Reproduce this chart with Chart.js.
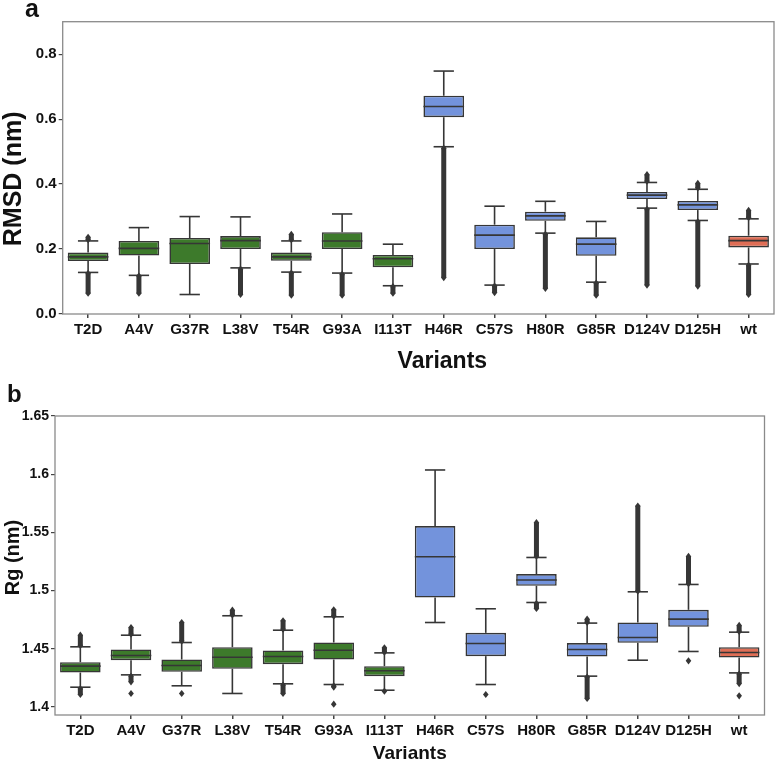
<!DOCTYPE html>
<html lang="en">

<head>
    <meta charset="UTF-8">
    <title>RMSD and Rg of SOD1 variants</title>
    <script src="https://cdn.jsdelivr.net/npm/chart.js"></script>
    <style>
        body,
        html {
            margin: 0;
            background: #fff;
        }

        .panel {
            position: absolute;
            left: 0;
            width: 776px;
        }
    </style>
</head>

<body>
    <div class="panel" style="top:0;height:376px"><canvas id="rmsdChart"></canvas></div>
    <div class="panel" style="top:376px;height:385px"><canvas id="rgChart"></canvas></div>
    <script>
        const variants = ['T2D', 'A4V', 'G37R', 'L38V', 'T54R', 'G93A', 'I113T', 'H46R', 'C57S', 'H80R', 'G85R', 'D124V', 'D125H', 'wt'];
        const groups = ['g', 'g', 'g', 'g', 'g', 'g', 'g', 'b', 'b', 'b', 'b', 'b', 'b', 'w'];

        // panel a: RMSD (nm)
        const rmsdWhiskLo = [0.128, 0.119, 0.060, 0.142, 0.129, 0.126, 0.087, 0.515, 0.089, 0.249, 0.098, 0.326, 0.288, 0.154];
        const rmsdQ1 = [0.163, 0.180, 0.154, 0.200, 0.164, 0.200, 0.144, 0.606, 0.200, 0.287, 0.179, 0.354, 0.320, 0.205];
        const rmsdMed = [0.176, 0.202, 0.217, 0.226, 0.176, 0.225, 0.170, 0.639, 0.243, 0.302, 0.215, 0.366, 0.336, 0.226];
        const rmsdQ3 = [0.189, 0.225, 0.234, 0.240, 0.189, 0.252, 0.182, 0.672, 0.275, 0.315, 0.236, 0.376, 0.348, 0.241];
        const rmsdWhiskHi = [0.225, 0.266, 0.300, 0.299, 0.225, 0.308, 0.215, 0.748, 0.332, 0.347, 0.285, 0.405, 0.384, 0.293];
        const rmsdOutLo = [[0.064, 0.125], [0.064, 0.117], null, [0.060, 0.138], [0.058, 0.126], [0.058, 0.122], [0.064, 0.084],
            [0.112, 0.510], [0.066, 0.086], [0.079, 0.245], [0.058, 0.095], [0.089, 0.322], [0.086, 0.284], [0.060, 0.150]];
        const rmsdOutHi = [[0.229, 0.236], null, null, null, [0.229, 0.245], null, null,
            null, null, null, null, [0.409, 0.429], [0.388, 0.402], [0.297, 0.319]];
        const rmsdOutSingle = [[], [], [], [], [], [], [], [], [], [], [], [], [], []];
        const rmsdTicks = [0.0, 0.2, 0.4, 0.6, 0.8];

        // panel b: Rg (nm)
        const rgWhiskLo = [1.4169, 1.4275, 1.4181, 1.4115, 1.4198, 1.4192, 1.4143, 1.4725, 1.4192, 1.4897, 1.4264, 1.4401, 1.4476, 1.4292];
        const rgQ1 = [1.4295, 1.4401, 1.4301, 1.4327, 1.4367, 1.4407, 1.4264, 1.4940, 1.4436, 1.5041, 1.4433, 1.4550, 1.4688, 1.4424];
        const rgMed = [1.4350, 1.4442, 1.4356, 1.4427, 1.4433, 1.4487, 1.4310, 1.5290, 1.4545, 1.5090, 1.4493, 1.4596, 1.4754, 1.4467];
        const rgQ3 = [1.4384, 1.4493, 1.4407, 1.4513, 1.4485, 1.4553, 1.4350, 1.5554, 1.4636, 1.5141, 1.4548, 1.4725, 1.4834, 1.4513];
        const rgWhiskHi = [1.4516, 1.4616, 1.4553, 1.4783, 1.4659, 1.4774, 1.4464, 1.6036, 1.4843, 1.5284, 1.4720, 1.4989, 1.5052, 1.4642];
        const rgOutLo = [[1.4106, 1.4155], [1.4215, 1.4262], null, null, [1.4115, 1.4188], [1.4170, 1.4180], null,
            null, null, [1.4846, 1.4888], [1.4072, 1.4255], null, null, [1.4200, 1.4282]];
        const rgOutHi = [[1.4528, 1.4616], [1.4625, 1.4682], [1.4565, 1.4725], [1.4790, 1.4831], [1.4668, 1.4740], [1.4780, 1.4834], [1.4470, 1.4507],
            null, null, [1.5295, 1.5583], [1.4725, 1.4754], [1.4995, 1.5726], [1.5060, 1.5293], [1.4648, 1.4700]];
        const rgOutSingle = [[], [1.4115], [1.4115], [], [], [1.4023], [1.4135], [], [1.4106], [], [], [], [1.4396], [1.4095]];
        const rgTicks = [1.4, 1.45, 1.5, 1.55, 1.6, 1.65];

        const palette = { g: '#3d7a2b', b: '#7393dc', w: '#df6e56' };
        const lineColor = '#363636';
        const fontFamily = '"Liberation Sans", Arial, sans-serif';

        function diamond(ctx, x, y) {
            ctx.beginPath();
            ctx.moveTo(x, y - 3.6);
            ctx.lineTo(x + 2.8, y);
            ctx.lineTo(x, y + 3.6);
            ctx.lineTo(x - 2.8, y);
            ctx.closePath();
            ctx.fill();
        }

        const boxExtras = {
            id: 'boxExtras',
            beforeDatasetsDraw(chart, args, opts) {
                const ctx = chart.ctx;
                const xs = chart.scales.x, ys = chart.scales.y;
                const bars = chart.getDatasetMeta(0).data;
                const s = opts.stats;
                ctx.save();
                ctx.strokeStyle = lineColor;
                ctx.fillStyle = lineColor;
                ctx.lineWidth = 1.6;
                variants.forEach((v, i) => {
                    const x = xs.getPixelForValue(i);
                    const cap = bars[i].width / 4;
                    const seg = (a, b) => {
                        ctx.beginPath();
                        ctx.moveTo(x, ys.getPixelForValue(a));
                        ctx.lineTo(x, ys.getPixelForValue(b));
                        ctx.stroke();
                    };
                    seg(s.q3[i], s.hi[i]);
                    seg(s.q1[i], s.lo[i]);
                    [s.hi[i], s.lo[i]].forEach(w => {
                        const y = ys.getPixelForValue(w);
                        ctx.beginPath();
                        ctx.moveTo(x - cap, y);
                        ctx.lineTo(x + cap, y);
                        ctx.stroke();
                    });
                    // outlier runs: dense markers shown as a thick band
                    [s.outLo[i], s.outHi[i]].forEach(r => {
                        if (!r) return;
                        const y1 = ys.getPixelForValue(r[0]), y2 = ys.getPixelForValue(r[1]);
                        ctx.save();
                        ctx.lineWidth = 5;
                        ctx.beginPath();
                        ctx.moveTo(x, y1);
                        ctx.lineTo(x, y2);
                        ctx.stroke();
                        ctx.restore();
                        diamond(ctx, x, y1);
                        diamond(ctx, x, y2);
                    });
                    s.single[i].forEach(p => diamond(ctx, x, ys.getPixelForValue(p)));
                });
                ctx.restore();
            },
            afterDatasetsDraw(chart, args, opts) {
                const ctx = chart.ctx;
                const ys = chart.scales.y;
                const bars = chart.getDatasetMeta(0).data;
                ctx.save();
                ctx.strokeStyle = lineColor;
                ctx.lineWidth = 1.6;
                bars.forEach((bar, i) => {
                    const y = ys.getPixelForValue(opts.stats.med[i]);
                    ctx.beginPath();
                    ctx.moveTo(bar.x - bar.width / 2, y);
                    ctx.lineTo(bar.x + bar.width / 2, y);
                    ctx.stroke();
                });
                ctx.restore();
            },
            afterDraw(chart, args, opts) {
                const ctx = chart.ctx;
                const a = chart.chartArea;
                ctx.save();
                ctx.strokeStyle = '#8a8a8a';
                ctx.lineWidth = 1.3;
                ctx.strokeRect(a.left, a.top, a.right - a.left, a.bottom - a.top);
                ctx.fillStyle = '#111';
                ctx.textAlign = 'left';
                ctx.textBaseline = 'alphabetic';
                ctx.font = 'bold ' + opts.panel.size + 'px ' + fontFamily;
                ctx.fillText(opts.panel.text, opts.panel.x, opts.panel.y);
                ctx.textAlign = 'center';
                ctx.font = 'bold ' + opts.xTitle.size + 'px ' + fontFamily;
                ctx.fillText('Variants', (a.left + a.right) / 2 + opts.xTitle.dx, opts.xTitle.y);
                ctx.translate(opts.yTitle.x, (a.top + a.bottom) / 2 + opts.yTitle.dy);
                ctx.rotate(-Math.PI / 2);
                ctx.textBaseline = 'middle';
                ctx.font = 'bold ' + opts.yTitle.size + 'px ' + fontFamily;
                ctx.fillText(opts.yTitle.text, 0, 0);
                ctx.restore();
            }
        };

        function makeChart(id, d) {
            const ctx = document.getElementById(id).getContext('2d');
            return new Chart(ctx, {
                type: 'bar',
                data: {
                    labels: variants,
                    datasets: [{
                        data: d.q1.map((q, i) => [q, d.q3[i]]),
                        backgroundColor: groups.map(g => palette[g]),
                        borderColor: lineColor,
                        borderWidth: 1.6,
                        borderSkipped: false,
                        categoryPercentage: 0.8,
                        barPercentage: 1.0
                    }]
                },
                options: {
                    responsive: true,
                    maintainAspectRatio: false,
                    animation: false,
                    layout: { padding: d.padding },
                    plugins: {
                        legend: { display: false },
                        tooltip: { enabled: false },
                        boxExtras: d.extras
                    },
                    scales: {
                        x: {
                            border: { display: false },
                            grid: { offset: false, drawOnChartArea: false, color: '#444', lineWidth: 1.5, tickLength: 4 },
                            ticks: { color: '#111', padding: 3, font: { family: fontFamily, size: d.xTickSize, weight: 'bold' }, maxRotation: 0 },
                            afterFit: s => { s.height = d.xHeight; }
                        },
                        y: {
                            min: d.min,
                            max: d.max,
                            border: { display: false },
                            grid: { drawOnChartArea: false, color: '#444', lineWidth: 1.2, tickLength: 4 },
                            ticks: {
                                color: '#111', padding: 2,
                                font: { family: fontFamily, size: d.yTickSize, weight: 'bold' },
                                callback: v => d.fmt(v)
                            },
                            afterBuildTicks: s => { s.ticks = d.ticks.map(v => ({ value: v })); },
                            afterFit: s => { s.width = d.yWidth; }
                        }
                    }
                },
                plugins: [boxExtras]
            });
        }

        makeChart('rmsdChart', {
            q1: rmsdQ1, q3: rmsdQ3, min: 0, max: 0.9, ticks: rmsdTicks,
            fmt: v => v.toFixed(1), yTickSize: 15, xTickSize: 15,
            padding: { top: 21.7, right: 2, left: 0, bottom: 0 }, xHeight: 62, yWidth: 62.7,
            extras: {
                stats: { q1: rmsdQ1, q3: rmsdQ3, med: rmsdMed, lo: rmsdWhiskLo, hi: rmsdWhiskHi, outLo: rmsdOutLo, outHi: rmsdOutHi, single: rmsdOutSingle },
                panel: { text: 'a', size: 25, x: 25, y: 17 },
                xTitle: { size: 23, dx: 24, y: 368 },
                yTitle: { text: 'RMSD (nm)', size: 25, x: 14, dy: 11 }
            }
        });

        makeChart('rgChart', {
            q1: rgQ1, q3: rgQ3, min: 1.393, max: 1.65, ticks: rgTicks,
            fmt: v => String(Number(v.toFixed(2))), yTickSize: 14, xTickSize: 15,
            padding: { top: 40, right: 11.5, left: 0, bottom: 0 }, xHeight: 46, yWidth: 55,
            extras: {
                stats: { q1: rgQ1, q3: rgQ3, med: rgMed, lo: rgWhiskLo, hi: rgWhiskHi, outLo: rgOutLo, outHi: rgOutHi, single: rgOutSingle },
                panel: { text: 'b', size: 24, x: 7, y: 26 },
                xTitle: { size: 19, dx: 0, y: 383 },
                yTitle: { text: 'Rg (nm)', size: 20, x: 13, dy: -8 }
            }
        });
    </script>
</body>

</html>
